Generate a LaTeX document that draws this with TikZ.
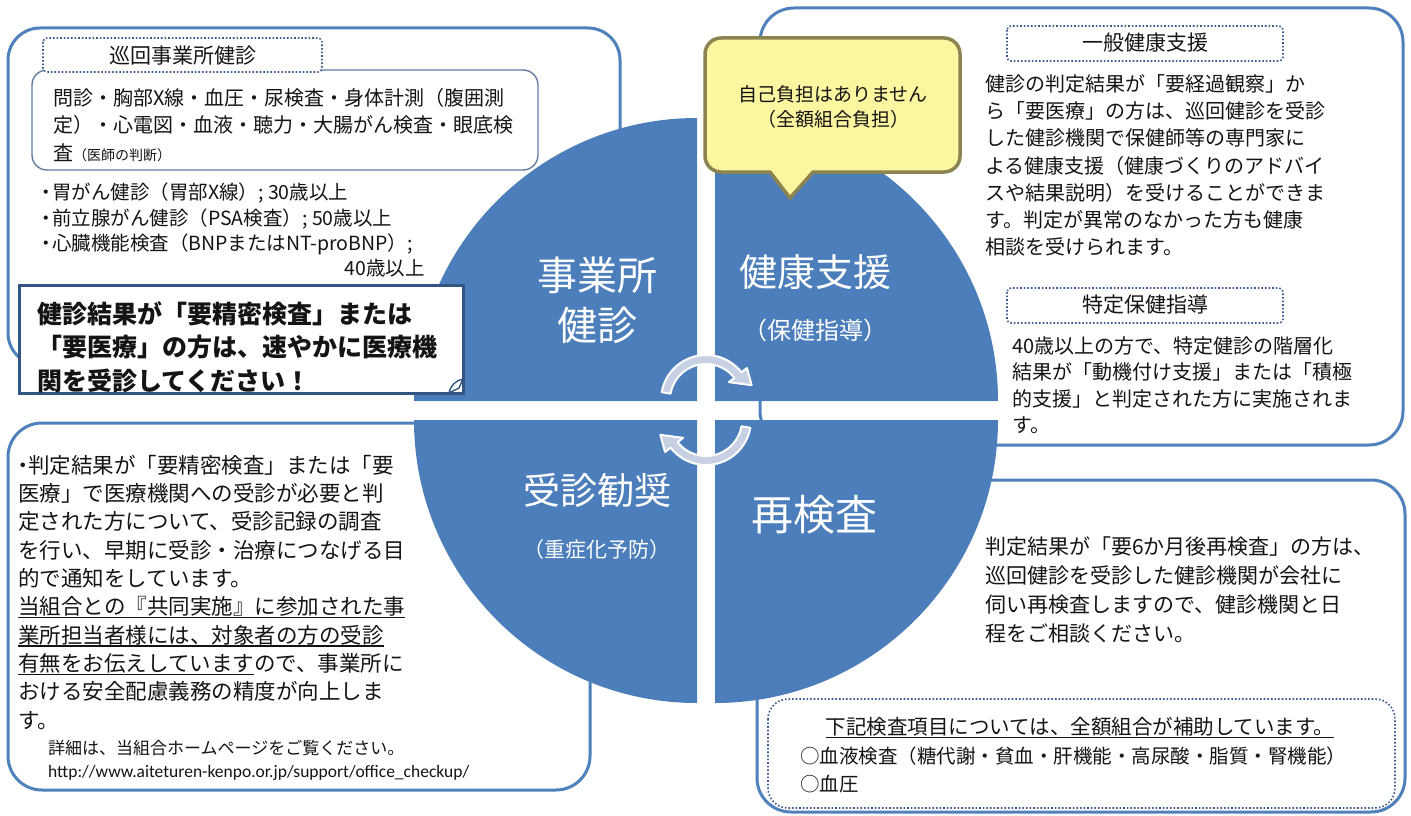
\documentclass[tikz,border=0pt]{standalone}
\usepackage{fontspec}
\setmainfont{Noto Sans CJK JP}
\newfontfamily\urlfont{Carlito}
\definecolor{pieblue}{RGB}{76,126,187}
\definecolor{frameblue}{RGB}{79,129,189}
\definecolor{dotblue}{RGB}{60,90,140}
\definecolor{innerc}{RGB}{100,125,160}
\definecolor{callc}{RGB}{50,85,130}
\definecolor{yelfill}{RGB}{252,246,160}
\definecolor{yelline}{RGB}{140,132,80}
\definecolor{arrowc}{RGB}{200,208,228}
\definecolor{txt}{RGB}{20,20,20}
\newcommand{\myul}[1]{\setbox0=\hbox{#1}\rlap{\rule[-3.5pt]{\wd0}{1.3pt}}\box0}
\newcommand{\bul}{\makebox[12pt][c]{・}}
\begin{document}
\begin{tikzpicture}[x=1pt,y=-1pt,
  frame/.style={draw=frameblue, line width=3pt, fill=white},
  dotbox/.style={draw=dotblue, line width=1.6pt, dotted, fill=white, rounded corners=4pt},
  tx/.style={inner sep=0pt, anchor=north west, align=left, text=txt},
  ctx/.style={inner sep=0pt, anchor=center, align=center, text=txt},
  lbl/.style={inner sep=0pt, anchor=center, align=center, text=white},
  pie/.style={fill=pieblue},
  cyc/.style={fill=arrowc, draw=white, line width=2pt, line join=round}
]
\useasboundingbox (0,0) rectangle (1411,816);
\fill[white] (0,0) rectangle (1411,816);

% outer frames
\draw[frame, rounded corners=32pt] (8,28) rectangle (620,365);
\draw[frame, rounded corners=34pt] (760,8) rectangle (1403,445);
\draw[frame, rounded corners=34pt] (8,423) rectangle (590,790);
\draw[frame, rounded corners=34pt] (757,480) rectangle (1405,812);

% top-left contents
\draw[draw=innerc, line width=1.4pt, fill=white, rounded corners=15pt] (32,70) rectangle (538,170);
\draw[dotbox] (43,38) rectangle (322,72);
\draw[dotbox] (1007,26) rectangle (1283,61);
\draw[dotbox] (1007,288) rectangle (1283,323);

% pie quadrants
\fill[pie] (697,401) -- (414,401) arc[start angle=180,end angle=270,radius=283] -- cycle;
\fill[pie] (715,401) -- (715,118) arc[start angle=270,end angle=360,radius=283] -- cycle;
\fill[pie] (697,420) -- (697,703) arc[start angle=90,end angle=180,radius=283] -- cycle;
\fill[pie] (715,420) -- (998,420) arc[start angle=0,end angle=90,radius=283] -- cycle;

% bottom-right dotted box
\draw[dotbox, rounded corners=20pt] (768,699) rectangle (1395,808);

% yellow callout
\draw[fill=yelfill, draw=yelline, line width=3.5pt, line join=round]
  (721,38) -- (944,38) arc[start angle=270,end angle=360,radius=16]
  -- (960,156) arc[start angle=0,end angle=90,radius=16]
  -- (813,172) -- (790,198) -- (770,172)
  -- (721,172) arc[start angle=90,end angle=180,radius=16]
  -- (705,54) arc[start angle=180,end angle=270,radius=16] -- cycle;

% warning callout
\draw[draw=callc, line width=3pt, fill=white] (19,285) rectangle (463,393);
\draw[callc, line width=1.4pt, fill=white, line join=round]
  (449,393) .. controls (451,385) and (455,381) .. (463,379) -- (459,388) -- cycle;

% cycle arrows
\filldraw[cyc, shift={(706,400)}] (190:45) arc[start angle=190,end angle=322,radius=45]
  -- (322:52) -- (342:48) -- (322:29) -- (322:36)
  arc[start angle=322,end angle=190,radius=36] -- cycle;
\filldraw[cyc, shift={(706,420)}] (10:45) arc[start angle=10,end angle=142,radius=45]
  -- (142:52) -- (162:48) -- (142:29) -- (142:36)
  arc[start angle=142,end angle=10,radius=36] -- cycle;

% ---- texts ----
\node[ctx, font=\fontsize{21}{24}\selectfont] (t1) at (183,56) {巡回事業所健診};
\node[tx, font=\fontsize{20}{27.5}\selectfont] (insp) at (53,88)
 {問診・胸部X線・血圧・尿検査・身体計測（腹囲測\\
  定）・心電図・血液・聴力・大腸がん検査・眼底検\\
  査{\fontsize{14}{16}\selectfont（医師の判断）}};
\node[tx, font=\fontsize{19.5}{25.5}\selectfont] (opt) at (40,183)
 {\bul 胃がん健診（胃部X線）; 30歳以上\\
  \bul 前立腺がん健診（PSA検査）; 50歳以上\\
  \bul 心臓機能検査（BNPまたはNT-proBNP）;};
\node[inner sep=0pt, anchor=east, text=txt, font=\fontsize{19.5}{24}\selectfont] (age) at (425,268) {40歳以上};
\node[tx, font=\fontsize{25}{33.5}\selectfont\bfseries] (warn) at (37,301)
 {健診結果が「要精密検査」または\\
  「要医療」の方は、速やかに医療機\\
  関を受診してください！};

\node[ctx, font=\fontsize{19}{25}\selectfont] (free) at (833,107) {自己負担はありません\\（全額組合負担）};

\node[ctx, font=\fontsize{21}{24}\selectfont] (t2) at (1145,43) {一般健康支援};
\node[tx, font=\fontsize{20}{27.3}\selectfont] (gen) at (985,74)
 {健診の判定結果が「要経過観察」か\\
  ら「要医療」の方は、巡回健診を受診\\
  した健診機関で保健師等の専門家に\\
  よる健康支援（健康づくりのアドバイ\\
  スや結果説明）を受けることができま\\
  す。判定が異常のなかった方も健康\\
  相談を受けられます。};
\node[ctx, font=\fontsize{21}{24}\selectfont] (t3) at (1145,305) {特定保健指導};
\node[tx, font=\fontsize{20}{26.5}\selectfont] (spec) at (1012,336)
 {40歳以上の方で、特定健診の階層化\\
  結果が「動機付け支援」または「積極\\
  的支援」と判定された方に実施されま\\
  す。};

\node[tx, font=\fontsize{21.5}{28.3}\selectfont] (rec) at (18,455)
 {\makebox[10pt][c]{・}判定結果が「要精密検査」または「要\\
  医療」で医療機関への受診が必要と判\\
  定された方について、受診記録の調査\\
  を行い、早期に受診・治療につなげる目\\
  的で通知をしています。\\
  \myul{当組合との『共同実施』に参加された事}\\
  \myul{業所担当者様には、対象者の方の受診}\\
  \myul{有無をお伝えしています}ので、事業所に\\
  おける安全配慮義務の精度が向上しま\\
  す。};
\node[tx, font=\fontsize{17}{20}\selectfont] (det) at (48,740) {詳細は、当組合ホームページをご覧ください。};
\node[tx, font=\urlfont\fontsize{17.5}{20}\selectfont] (url) at (48,765) {http://www.aiteturen-kenpo.or.jp/support/office\_checkup/};

\node[tx, font=\fontsize{21}{28.7}\selectfont] (rechk) at (985,537)
 {判定結果が「要6か月後再検査」の方は、\\
  巡回健診を受診した健診機関が会社に\\
  伺い再検査しますので、健診機関と日\\
  程をご相談ください。};
\node[ctx, font=\fontsize{20.5}{24}\selectfont] (sub) at (1080,728) {\myul{下記検査項目については、全額組合が補助しています。}};
\node[tx, font=\fontsize{19.5}{28}\selectfont] (items) at (800,747)
 {○血液検査（糖代謝・貧血・肝機能・高尿酸・脂質・腎機能）\\○血圧};

% circle labels
\node[lbl, font=\fontsize{40}{50}\selectfont] (q1) at (597,300) {事業所\\健診};
\node[lbl, font=\fontsize{38}{44}\selectfont] (q2) at (815,272) {健康支援};
\node[lbl, font=\fontsize{24}{28}\selectfont] (q2b) at (815,330) {（保健指導）};
\node[lbl, font=\fontsize{37}{44}\selectfont] (q3) at (597,490) {受診勧奨};
\node[lbl, font=\fontsize{21}{26}\selectfont] (q3b) at (597,550) {（重症化予防）};
\node[lbl, font=\fontsize{42}{48}\selectfont] (q4) at (814,515) {再検査};
\end{tikzpicture}
\end{document}
